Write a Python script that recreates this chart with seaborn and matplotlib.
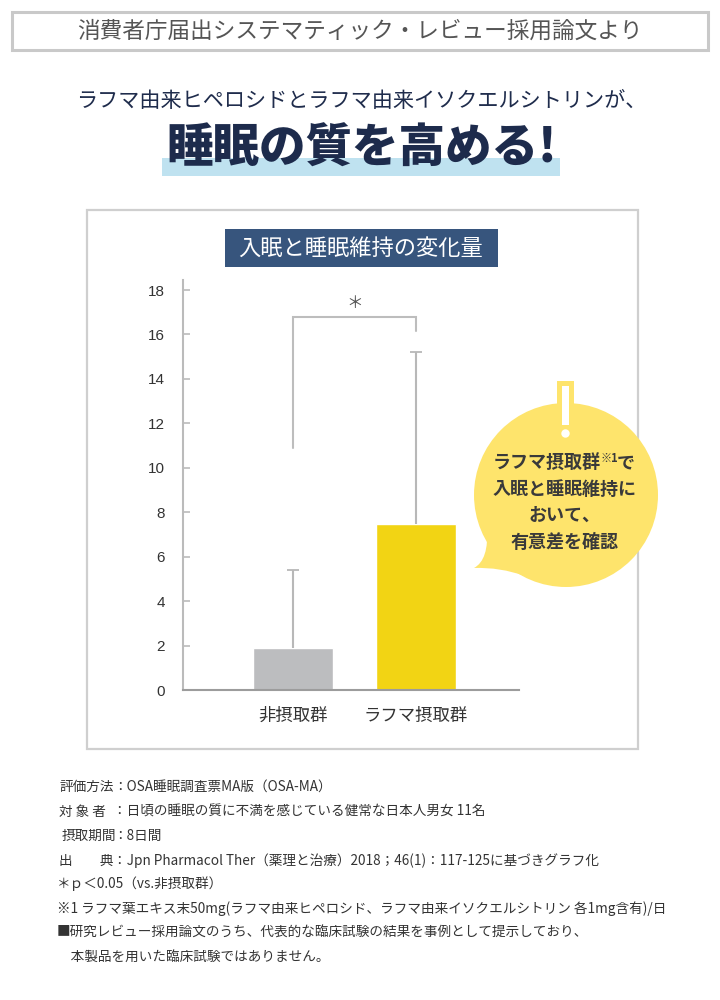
import numpy as np
import pandas as pd
import matplotlib
matplotlib.use('Agg')
import matplotlib.pyplot as plt
import seaborn as sns
from matplotlib.patches import Rectangle, Circle, PathPatch
from matplotlib.path import Path


################################################################################
#
# Data
#
################################################################################

groups = ['非摂取群', 'ラフマ摂取群']
means = [1.9, 7.45]
sd_upper = [3.5, 7.75]
bar_colors = ['#bcbdbf', '#f2d414']
y_ticks = [0, 2, 4, 6, 8, 10, 12, 14, 16, 18]
bracket_y = [10.9, 16.8, 16.8, 16.15]

header_text = '消費者庁届出システマティック・レビュー採用論文より'
sub_text = 'ラフマ由来ヒペロシドとラフマ由来イソクエルシトリンが、'
head_text = '睡眠の質を高める!'
chart_title = '入眠と睡眠維持の変化量'
bubble_lines = ['入眠と睡眠維持に', 'おいて、', '有意差を確認']

note_labels = ['評価方法', '対 象 者', '摂取期間', '出　　典']
note_values = ['：OSA睡眠調査票MA版（OSA-MA）',
               '：日頃の睡眠の質に不満を感じている健常な日本人男女 11名',
               '：8日間',
               '：Jpn Pharmacol Ther（薬理と治療）2018；46(1)：117-125に基づきグラフ化']
note_free = ['＊ｐ＜0.05（vs.非摂取群）',
             '※1 ラフマ葉エキス末50mg(ラフマ由来ヒペロシド、ラフマ由来イソクエルシトリン 各1mg含有)/日',
             '■研究レビュー採用論文のうち、代表的な臨床試験の結果を事例として提示しており、',
             '　本製品を用いた臨床試験ではありません。']


################################################################################
#
# Plot
#
################################################################################

sns.set_theme(style='white')
plt.rcParams['font.family'] = ['Noto Sans CJK JP', 'DejaVu Sans']

fig = plt.figure(figsize=(7.2, 10), dpi=100)
fig.patch.set_facecolor('white')

# background layer in pixel coordinates
bg = fig.add_axes([0, 0, 1, 1], zorder=0)
bg.set_xlim(0, 720)
bg.set_ylim(1000, 0)
bg.axis('off')

bg.add_patch(Rectangle((12, 12), 696, 38, fill=False, ec='#c9c9c9', lw=2.2))
bg.text(360, 31, header_text, ha='center', va='center', fontsize=16.3, color='#555555')

bg.text(361, 101, sub_text, ha='center', va='center', fontsize=15.2, color='#1f2c4c')
bg.add_patch(Rectangle((162, 158), 398, 18, color='#bfe2f0', lw=0))
bg.text(362, 149, head_text, ha='center', va='center', fontsize=33.5,
        fontweight='black', color='#1d2b4c')

bg.add_patch(Rectangle((87, 210), 551, 539, fill=False, ec='#cfcfcf', lw=1.6))
bg.add_patch(Rectangle((225, 229), 273, 38, color='#37557d', lw=0))
bg.text(361, 248, chart_title, ha='center', va='center', fontsize=16, color='white')

# speech bubble
bub_col = '#fee46c'
bg.add_patch(Circle((566, 495), 92, color=bub_col, lw=0, zorder=3))
tail = Path([(487, 528), (489, 560), (474, 568), (500, 567), (525, 576), (487, 528)],
            [Path.MOVETO, Path.CURVE3, Path.CURVE3, Path.CURVE3, Path.CURVE3, Path.CLOSEPOLY])
bg.add_patch(PathPatch(tail, color=bub_col, lw=0, zorder=3))
bg.add_patch(Rectangle((557, 381), 17, 30, color=bub_col, lw=0, zorder=3))
bg.add_patch(Rectangle((562, 386), 6.5, 39, color='white', lw=0, zorder=4))
bg.add_patch(Circle((565.5, 433.5), 4.2, color='white', lw=0, zorder=4))

bg.text(601, 463, 'ラフマ摂取群', ha='right', va='center', fontsize=13,
        fontweight='bold', color='#3a3a3a', zorder=5)
bg.text(601, 458, '※1', ha='left', va='center', fontsize=8,
        fontweight='bold', color='#3a3a3a', zorder=5)
bg.text(617, 463, 'で', ha='left', va='center', fontsize=13,
        fontweight='bold', color='#3a3a3a', zorder=5)
for i, line in enumerate(bubble_lines):
    bg.text(565, 489 + i * 26.5, line, ha='center', va='center', fontsize=13,
            fontweight='bold', color='#3a3a3a', zorder=5)

# notes
for i, (lab, val) in enumerate(zip(note_labels, note_values)):
    y = 787 + i * 24.5
    bg.text(59 if i != 2 else 62, y, lab, ha='left', va='center', fontsize=9.8, color='#333333')
    bg.text(113, y, val, ha='left', va='center', fontsize=9.8, color='#333333')
for i, txt in enumerate(note_free):
    bg.text(57, 884 + i * 24.5, txt, ha='left', va='center', fontsize=9.8, color='#333333')

# bar chart
ax = fig.add_axes([183 / 720, 1 - 690 / 1000, 336 / 720, 410 / 1000], zorder=2)
ax.patch.set_alpha(0)
df = pd.DataFrame({'group': groups, 'change': means})
sns.barplot(data=df, x='group', y='change', hue='group', palette=bar_colors,
            width=0.65, saturation=1, errorbar=None, legend=False, ax=ax)
eb = ax.errorbar([0, 1], means, yerr=[[0, 0], sd_upper], fmt='none',
                 ecolor='#b8b8b8', elinewidth=1.5, capsize=4.3, capthick=1.3, zorder=1)
# keep only the upper caps
for cap in eb[1]:
    if np.allclose(cap.get_ydata(), means):
        cap.set_visible(False)
ax.plot([0, 0, 1, 1], bracket_y, color='#bdbdbd', lw=1.5, solid_joinstyle='miter')
ax.text(0.5, 17.4, '＊', ha='center', va='center', fontsize=12, color='#555555')

ax.set_xlim(-0.894, 1.837)
ax.set_ylim(0, 18.45)
ax.set_yticks(y_ticks)
ax.set_xlabel('')
ax.set_ylabel('')
for side in ['top', 'right']:
    ax.spines[side].set_visible(False)
ax.spines['left'].set_color('#bbbbbb')
ax.spines['left'].set_linewidth(1.5)
ax.spines['bottom'].set_color('#9c9c9c')
ax.spines['bottom'].set_linewidth(1.5)
ax.tick_params(axis='y', direction='in', length=5, width=1.2, color='#bbbbbb',
               pad=13, labelsize=11, labelcolor='#333333', left=True)
for lab in ax.get_yticklabels():
    lab.set_family('Liberation Sans')
ax.tick_params(axis='x', length=0, pad=12, labelsize=12.5, labelcolor='#333333')

fig.savefig('out.png', dpi=100)
